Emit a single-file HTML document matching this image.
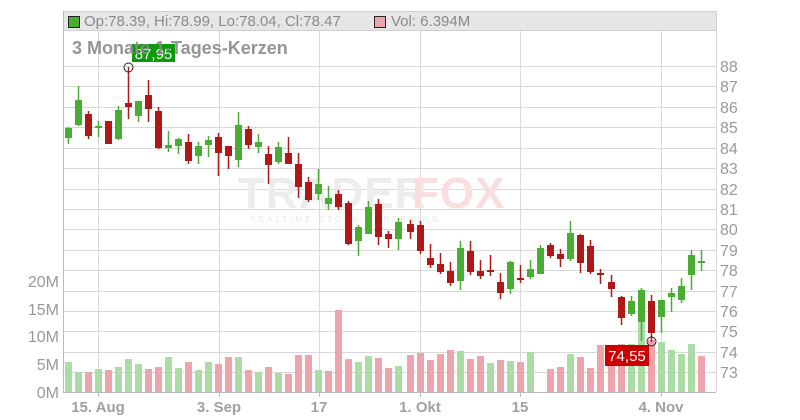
<!DOCTYPE html>
<html><head><meta charset="utf-8"><style>
html,body{margin:0;padding:0;background:#fff;}
svg{display:block;font-family:"Liberation Sans",sans-serif;}
</style></head><body>
<svg width="800" height="420" viewBox="0 0 800 420" xmlns="http://www.w3.org/2000/svg">
<rect width="800" height="420" fill="#fff"/>
<g stroke="#d8d8d8" stroke-width="1">
<line x1="63" x2="716" y1="66.5" y2="66.5"/><line x1="63" x2="716" y1="86.5" y2="86.5"/><line x1="63" x2="716" y1="107.5" y2="107.5"/><line x1="63" x2="716" y1="127.5" y2="127.5"/><line x1="63" x2="716" y1="148.5" y2="148.5"/><line x1="63" x2="716" y1="168.5" y2="168.5"/><line x1="63" x2="716" y1="189.5" y2="189.5"/><line x1="63" x2="716" y1="209.5" y2="209.5"/><line x1="63" x2="716" y1="229.5" y2="229.5"/><line x1="63" x2="716" y1="250.5" y2="250.5"/><line x1="63" x2="716" y1="270.5" y2="270.5"/><line x1="63" x2="716" y1="291.5" y2="291.5"/><line x1="63" x2="716" y1="311.5" y2="311.5"/><line x1="63" x2="716" y1="331.5" y2="331.5"/><line x1="63" x2="716" y1="352.5" y2="352.5"/><line x1="63" x2="716" y1="372.5" y2="372.5"/>
<line x1="98.5" x2="98.5" y1="11" y2="392"/><line x1="219.5" x2="219.5" y1="11" y2="392"/><line x1="319.5" x2="319.5" y1="11" y2="392"/><line x1="420.5" x2="420.5" y1="11" y2="392"/><line x1="520.5" x2="520.5" y1="11" y2="392"/><line x1="661.5" x2="661.5" y1="11" y2="392"/>
<line x1="716.5" x2="716.5" y1="11" y2="392"/>
</g>
<rect x="63.5" y="11.5" width="653" height="19" fill="#e6e6e6" stroke="#d0d0d0"/>
<rect x="68.5" y="16.5" width="11" height="11" fill="#4aad33" stroke="#222"/>
<text x="84" y="26" font-size="15" fill="#8a8a8a">Op:78.39, Hi:78.99, Lo:78.04, Cl:78.47</text>
<rect x="374.5" y="16.5" width="11" height="11" fill="#eea4ac" stroke="#222"/>
<text x="391" y="26" font-size="15" fill="#8a8a8a">Vol: 6.394M</text>
<!-- watermark -->
<text x="238" y="208" font-size="44" font-weight="bold" fill="#ececec" letter-spacing="1">TRADER</text>
<text x="412" y="208" font-size="44" font-weight="bold" fill="#fadede" letter-spacing="1">FOX</text>
<text x="250" y="222" font-size="8" fill="#e8e8e8" letter-spacing="3">REALTIME STOCK SCREENING</text>
<!-- volume -->
<g fill="#acdca6">
<rect x="65" y="362" width="7" height="30"/><rect x="75" y="372" width="7" height="20"/><rect x="95" y="369" width="7" height="23"/><rect x="115" y="367" width="7" height="25"/><rect x="125" y="359" width="7" height="33"/><rect x="135" y="364" width="7" height="28"/><rect x="165" y="357" width="7" height="35"/><rect x="175" y="368" width="7" height="24"/><rect x="195" y="370" width="7" height="22"/><rect x="205" y="362" width="7" height="30"/><rect x="235" y="357" width="7" height="35"/><rect x="255" y="372" width="7" height="20"/><rect x="275" y="373" width="7" height="19"/><rect x="315" y="370" width="7" height="22"/><rect x="355" y="362" width="7" height="30"/><rect x="365" y="356" width="7" height="36"/><rect x="395" y="366" width="7" height="26"/><rect x="457" y="351" width="7" height="41"/><rect x="487" y="363" width="7" height="29"/><rect x="507" y="361" width="7" height="31"/><rect x="527" y="352" width="7" height="40"/><rect x="567" y="354" width="7" height="38"/><rect x="628" y="344" width="7" height="48"/><rect x="638" y="321" width="7" height="71"/><rect x="658" y="342" width="7" height="50"/><rect x="668" y="350" width="7" height="42"/><rect x="678" y="354" width="7" height="38"/><rect x="688" y="344" width="7" height="48"/>
</g>
<g fill="#eea4ac">
<rect x="85" y="372" width="7" height="20"/><rect x="105" y="370" width="7" height="22"/><rect x="145" y="369" width="7" height="23"/><rect x="155" y="367" width="7" height="25"/><rect x="185" y="362" width="7" height="30"/><rect x="215" y="364" width="7" height="28"/><rect x="225" y="357" width="7" height="35"/><rect x="245" y="370" width="7" height="22"/><rect x="265" y="367" width="7" height="25"/><rect x="285" y="374" width="7" height="18"/><rect x="295" y="355" width="7" height="37"/><rect x="305" y="355" width="7" height="37"/><rect x="325" y="371" width="7" height="21"/><rect x="335" y="310" width="7" height="82"/><rect x="345" y="359" width="7" height="33"/><rect x="375" y="358" width="7" height="34"/><rect x="385" y="368" width="7" height="24"/><rect x="407" y="355" width="7" height="37"/><rect x="417" y="353" width="7" height="39"/><rect x="427" y="360" width="7" height="32"/><rect x="437" y="354" width="7" height="38"/><rect x="447" y="350" width="7" height="42"/><rect x="467" y="359" width="7" height="33"/><rect x="477" y="356" width="7" height="36"/><rect x="497" y="360" width="7" height="32"/><rect x="517" y="362" width="7" height="30"/><rect x="547" y="369" width="7" height="23"/><rect x="557" y="367" width="7" height="25"/><rect x="577" y="357" width="7" height="35"/><rect x="587" y="368" width="7" height="24"/><rect x="597" y="345" width="7" height="47"/><rect x="608" y="345" width="7" height="47"/><rect x="618" y="344" width="7" height="48"/><rect x="648" y="340" width="7" height="52"/><rect x="698" y="356" width="7" height="36"/>
</g>
<!-- green candles -->
<g stroke="#4aad33" stroke-width="1.5">
<line x1="68.5" x2="68.5" y1="127" y2="144"/><line x1="78.5" x2="78.5" y1="86" y2="126"/><line x1="98.5" x2="98.5" y1="121" y2="137"/><line x1="118.5" x2="118.5" y1="106" y2="140"/><line x1="138.5" x2="138.5" y1="101" y2="122"/><line x1="168.5" x2="168.5" y1="131" y2="152"/><line x1="178.5" x2="178.5" y1="138" y2="154"/><line x1="198.5" x2="198.5" y1="142" y2="164"/><line x1="208.5" x2="208.5" y1="136" y2="157"/><line x1="238.5" x2="238.5" y1="112" y2="167"/><line x1="258.5" x2="258.5" y1="134" y2="153"/><line x1="278.5" x2="278.5" y1="142" y2="164"/><line x1="318.5" x2="318.5" y1="169" y2="200"/><line x1="328.5" x2="328.5" y1="186" y2="210"/><line x1="358.5" x2="358.5" y1="225" y2="256"/><line x1="368.5" x2="368.5" y1="201" y2="234"/><line x1="398.5" x2="398.5" y1="218" y2="250"/><line x1="460.5" x2="460.5" y1="241" y2="290"/><line x1="510.5" x2="510.5" y1="261" y2="294"/><line x1="530.5" x2="530.5" y1="260" y2="279"/><line x1="540.5" x2="540.5" y1="245" y2="274"/><line x1="570.5" x2="570.5" y1="221" y2="261"/><line x1="631.5" x2="631.5" y1="296" y2="316"/><line x1="641.5" x2="641.5" y1="288" y2="341"/><line x1="661.5" x2="661.5" y1="300" y2="333"/><line x1="671.5" x2="671.5" y1="288" y2="312"/><line x1="681.5" x2="681.5" y1="278" y2="303"/><line x1="691.5" x2="691.5" y1="250" y2="290"/><line x1="701.5" x2="701.5" y1="250" y2="271"/>
</g>
<g fill="#4aad33">
<rect x="65" y="128" width="7" height="10"/><rect x="75" y="100" width="7" height="25"/><rect x="95" y="126" width="7" height="2"/><rect x="115" y="110" width="7" height="29"/><rect x="135" y="101" width="7" height="15"/><rect x="165" y="145" width="7" height="3"/><rect x="175" y="139" width="7" height="7"/><rect x="195" y="146" width="7" height="10"/><rect x="205" y="140" width="7" height="5"/><rect x="235" y="125" width="7" height="35"/><rect x="255" y="142" width="7" height="5"/><rect x="275" y="147" width="7" height="15"/><rect x="315" y="184" width="7" height="10"/><rect x="325" y="198" width="7" height="6"/><rect x="355" y="227" width="7" height="14"/><rect x="365" y="207" width="7" height="27"/><rect x="395" y="222" width="7" height="17"/><rect x="457" y="248" width="7" height="33"/><rect x="507" y="262" width="7" height="27"/><rect x="527" y="269" width="7" height="8"/><rect x="537" y="248" width="7" height="26"/><rect x="567" y="233" width="7" height="26"/><rect x="628" y="301" width="7" height="13"/><rect x="638" y="290" width="7" height="32"/><rect x="658" y="300" width="7" height="17"/><rect x="668" y="293" width="7" height="4"/><rect x="678" y="286" width="7" height="14"/><rect x="688" y="255" width="7" height="20"/><rect x="698" y="261" width="7" height="2"/>
</g>
<!-- red candles -->
<g stroke="#b01717" stroke-width="1.5">
<line x1="88.5" x2="88.5" y1="111" y2="139"/><line x1="108.5" x2="108.5" y1="121" y2="144"/><line x1="128.5" x2="128.5" y1="67" y2="119"/><line x1="148.5" x2="148.5" y1="80" y2="122"/><line x1="158.5" x2="158.5" y1="107" y2="149"/><line x1="188.5" x2="188.5" y1="134" y2="164"/><line x1="218.5" x2="218.5" y1="133" y2="176"/><line x1="228.5" x2="228.5" y1="146" y2="169"/><line x1="248.5" x2="248.5" y1="126" y2="149"/><line x1="268.5" x2="268.5" y1="146" y2="184"/><line x1="288.5" x2="288.5" y1="137" y2="164"/><line x1="298.5" x2="298.5" y1="153" y2="198"/><line x1="308.5" x2="308.5" y1="177" y2="202"/><line x1="338.5" x2="338.5" y1="190" y2="210"/><line x1="348.5" x2="348.5" y1="201" y2="245"/><line x1="378.5" x2="378.5" y1="199" y2="245"/><line x1="388.5" x2="388.5" y1="231" y2="248"/><line x1="410.5" x2="410.5" y1="220" y2="239"/><line x1="420.5" x2="420.5" y1="221" y2="254"/><line x1="430.5" x2="430.5" y1="244" y2="268"/><line x1="440.5" x2="440.5" y1="253" y2="274"/><line x1="450.5" x2="450.5" y1="262" y2="286"/><line x1="470.5" x2="470.5" y1="241" y2="275"/><line x1="480.5" x2="480.5" y1="260" y2="279"/><line x1="490.5" x2="490.5" y1="255" y2="276"/><line x1="500.5" x2="500.5" y1="273" y2="299"/><line x1="520.5" x2="520.5" y1="265" y2="283"/><line x1="550.5" x2="550.5" y1="243" y2="258"/><line x1="560.5" x2="560.5" y1="249" y2="267"/><line x1="580.5" x2="580.5" y1="234" y2="273"/><line x1="590.5" x2="590.5" y1="240" y2="274"/><line x1="600.5" x2="600.5" y1="269" y2="284"/><line x1="611.5" x2="611.5" y1="275" y2="297"/><line x1="621.5" x2="621.5" y1="296" y2="325"/><line x1="651.5" x2="651.5" y1="295" y2="342"/>
</g>
<g fill="#b01717">
<rect x="85" y="114" width="7" height="22"/><rect x="105" y="121" width="7" height="23"/><rect x="125" y="103" width="7" height="4"/><rect x="145" y="95" width="7" height="14"/><rect x="155" y="111" width="7" height="37"/><rect x="185" y="142" width="7" height="19"/><rect x="215" y="137" width="7" height="16"/><rect x="225" y="146" width="7" height="10"/><rect x="245" y="129" width="7" height="16"/><rect x="265" y="154" width="7" height="11"/><rect x="285" y="153" width="7" height="11"/><rect x="295" y="164" width="7" height="23"/><rect x="305" y="182" width="7" height="18"/><rect x="335" y="194" width="7" height="13"/><rect x="345" y="203" width="7" height="41"/><rect x="375" y="204" width="7" height="33"/><rect x="385" y="234" width="7" height="5"/><rect x="407" y="224" width="7" height="8"/><rect x="417" y="225" width="7" height="26"/><rect x="427" y="258" width="7" height="7"/><rect x="437" y="264" width="7" height="8"/><rect x="447" y="271" width="7" height="12"/><rect x="467" y="251" width="7" height="21"/><rect x="477" y="271" width="7" height="5"/><rect x="487" y="270" width="7" height="2"/><rect x="497" y="282" width="7" height="11"/><rect x="517" y="278" width="7" height="2"/><rect x="547" y="245" width="7" height="11"/><rect x="557" y="254" width="7" height="5"/><rect x="577" y="235" width="7" height="28"/><rect x="587" y="246" width="7" height="26"/><rect x="597" y="273" width="7" height="2"/><rect x="608" y="282" width="7" height="7"/><rect x="618" y="297" width="7" height="21"/><rect x="648" y="301" width="7" height="32"/>
</g>
<!-- axes -->
<line x1="63.5" x2="63.5" y1="11" y2="392" stroke="#bbb"/>
<line x1="63" x2="716" y1="392.5" y2="392.5" stroke="#bbb"/>
<g stroke="#bbb"><line x1="98.5" x2="98.5" y1="392" y2="397"/><line x1="219.5" x2="219.5" y1="392" y2="397"/><line x1="319.5" x2="319.5" y1="392" y2="397"/><line x1="420.5" x2="420.5" y1="392" y2="397"/><line x1="520.5" x2="520.5" y1="392" y2="397"/><line x1="661.5" x2="661.5" y1="392" y2="397"/></g>
<!-- markers -->
<rect x="132" y="44" width="43" height="18" fill="#0a9a0a"/>
<text x="153.5" y="59" font-size="15" fill="#fff" text-anchor="middle">87,95</text>
<circle cx="128.5" cy="67.5" r="4.5" fill="none" stroke="#222"/>
<text x="72" y="54" font-size="18" font-weight="bold" fill="#8a8a8a" fill-opacity="0.9">3 Monate 1-Tages-Kerzen</text>
<rect x="605" y="345" width="44" height="21" fill="#cc0000"/>
<text x="627" y="361" font-size="15" fill="#fff" text-anchor="middle">74,55</text>
<circle cx="651.5" cy="341.5" r="4.5" fill="none" stroke="#222"/>
<!-- y labels -->
<g font-size="16" fill="#999">
<text x="720" y="72">88</text><text x="720" y="92">87</text><text x="720" y="113">86</text><text x="720" y="133">85</text><text x="720" y="154">84</text><text x="720" y="174">83</text><text x="720" y="195">82</text><text x="720" y="215">81</text><text x="720" y="235">80</text><text x="720" y="256">79</text><text x="720" y="276">78</text><text x="720" y="297">77</text><text x="720" y="317">76</text><text x="720" y="337">75</text><text x="720" y="358">74</text><text x="720" y="378">73</text>
</g>
<g font-size="16" fill="#999" text-anchor="end">
<text x="59" y="287">20M</text><text x="59" y="315">15M</text><text x="59" y="342">10M</text><text x="59" y="370">5M</text><text x="59" y="398">0M</text>
</g>
<g font-size="15" font-weight="bold" fill="#a0a0a0" text-anchor="middle">
<text x="98" y="412">15. Aug</text><text x="219" y="412">3. Sep</text><text x="319" y="412">17</text><text x="420" y="412">1. Okt</text><text x="520" y="412">15</text><text x="661" y="412">4. Nov</text>
</g>
</svg>
</body></html>
